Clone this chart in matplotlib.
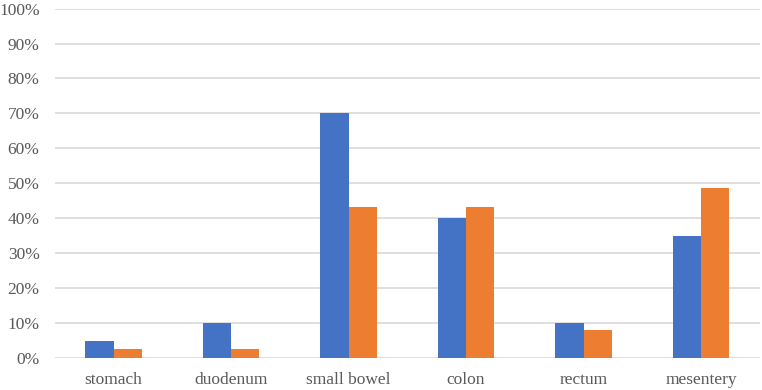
import matplotlib.pyplot as plt
import numpy as np
from matplotlib.ticker import PercentFormatter

categories = ["stomach", "duodenum", "small bowel", "colon", "rectum", "mesentery"]
series_a = [5.0, 10.0, 70.0, 40.0, 10.0, 35.0]
series_b = [2.7, 2.7, 43.2, 43.2, 8.1, 48.6]

plt.rcParams['font.family'] = ['Liberation Serif', 'DejaVu Serif']

fig = plt.figure(figsize=(7.62, 3.9), dpi=100)
ax = fig.add_axes([0.072, 0.082, 0.925, 0.896])

x = np.arange(len(categories))
w = 0.24
ax.bar(x - w / 2, series_a, w, color="#4472C4", zorder=3)
ax.bar(x + w / 2, series_b, w, color="#ED7D31", zorder=3)

ax.set_xlim(-0.5, len(categories) - 0.5)
ax.set_ylim(0, 100)
ax.set_yticks(np.arange(0, 101, 10))
ax.yaxis.set_major_formatter(PercentFormatter(decimals=0))
ax.set_xticks(x)
ax.set_xticklabels(categories)
ax.grid(axis="y", color="#D9D9D9", linewidth=1.2, zorder=0)
for s in ax.spines.values():
    s.set_visible(False)
ax.tick_params(length=0, labelsize=12.5, colors="#595959")
ax.tick_params(axis="y", pad=11)
ax.tick_params(axis="x", pad=10)

fig.savefig("out.png", dpi=100)
